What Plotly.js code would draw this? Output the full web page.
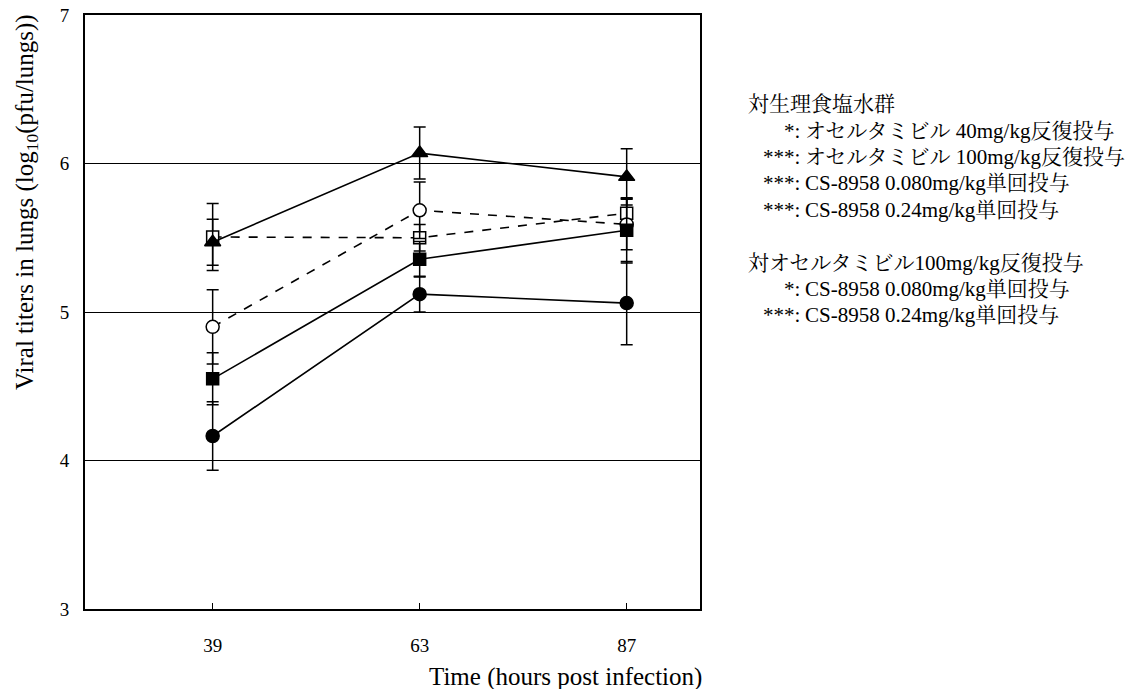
<!DOCTYPE html>
<html>
<head>
<meta charset="utf-8">
<script src="https://cdn.plot.ly/plotly-3.0.1.min.js"></script>
<style>html,body{margin:0;padding:0;background:#fff;}#chart{width:1129px;height:689px;}</style>
</head>
<body>
<div id="chart"></div>
<script>
// ---- data ----
const times = [39, 63, 87];
const tickLabels = ['39', '63', '87'];
const yTicks = [3, 4, 5, 6, 7];

const triangleVals = [5.47, 6.07, 5.91];
const triangleErr  = [0.155, 0.175, 0.19];

const openSquareVals = [5.505, 5.50, 5.665];
const openSquareErr  = [0.225, 0.09, 0.10];

const openCircleVals = [4.90, 5.685, 5.59];
const openCircleErr  = [0.25, 0.19, 0.17];

const filledSquareVals = [4.55, 5.355, 5.55];
const filledSquareErr  = [0.175, 0.12, 0.22];

const filledCircleVals = [4.165, 5.12, 5.06];
const filledCircleErr  = [0.23, 0.12, 0.28];

const noteHeader1 = '対生理食塩水群';
const notePrefix1 = ['*:', '***:', '***:', '***:'];
const noteText1 = ['オセルタミビル 40mg/kg反復投与', 'オセルタミビル 100mg/kg反復投与', 'CS-8958 0.080mg/kg単回投与', 'CS-8958 0.24mg/kg単回投与'];
const noteHeader2 = '対オセルタミビル100mg/kg反復投与';
const notePrefix2 = ['*:', '***:'];
const noteText2 = ['CS-8958 0.080mg/kg単回投与', 'CS-8958 0.24mg/kg単回投与'];

// ---- layout geometry ----
const W = 1129, H = 689;
const M = {l: 85, r: 429, t: 15, b: 80};
const PW = W - M.l - M.r, PH = H - M.t - M.b;
const px = x => (x - M.l) / PW;
const py = y => (H - M.b - y) / PH;

const FONT = 'Liberation Serif, Noto Serif CJK JP, Noto Sans CJK JP, serif';

function series(name, vals, errs, symbol, fill, dash, size) {
  return {
    type: 'scatter', mode: 'lines+markers', name: name,
    x: times, y: vals,
    error_y: {type: 'data', array: errs, visible: true, color: '#000', thickness: 1.5, width: 6},
    line: {color: '#000', width: 1.6, dash: dash},
    marker: {symbol: symbol, size: size, color: fill, line: {color: '#000', width: 1.5}},
    cliponaxis: false
  };
}

const data = [
  series('open square', openSquareVals, openSquareErr, 'square', '#fff', 'dash', 12),
  series('open circle', openCircleVals, openCircleErr, 'circle', '#fff', 'dash', 13),
  series('triangle', triangleVals, triangleErr, 'triangle-up', '#000', 'solid', 14),
  series('filled square', filledSquareVals, filledSquareErr, 'square', '#000', 'solid', 12),
  series('filled circle', filledCircleVals, filledCircleErr, 'circle', '#000', 'solid', 13)
];

const annotations = [];
annotations.push({
  xref: 'paper', yref: 'paper', x: px(27), y: py(202), textangle: -90,
  text: 'Viral titers in lungs (log<sub>10</sub>(pfu/lungs))', showarrow: false,
  font: {family: FONT, size: 25, color: '#000'}, xanchor: 'center', yanchor: 'middle'
});
annotations.push({
  xref: 'paper', yref: 'paper', x: px(565), y: py(677),
  text: 'Time (hours post infection)', showarrow: false,
  font: {family: FONT, size: 25, color: '#000'}, xanchor: 'center', yanchor: 'middle'
});

const noteFont = {family: FONT, size: 21, color: '#000'};
function noteLine(yPix, prefix, text) {
  if (prefix === null) {
    annotations.push({xref: 'paper', yref: 'paper', x: px(746), y: py(yPix), text: text, showarrow: false,
      font: noteFont, xanchor: 'left', yanchor: 'middle'});
  } else {
    annotations.push({xref: 'paper', yref: 'paper', x: px(802), y: py(yPix), text: prefix, showarrow: false,
      font: noteFont, xanchor: 'right', yanchor: 'middle'});
    annotations.push({xref: 'paper', yref: 'paper', x: px(803), y: py(yPix), text: text, showarrow: false,
      font: noteFont, xanchor: 'left', yanchor: 'middle'});
  }
}
let yy = 104;
noteLine(yy, null, noteHeader1);
notePrefix1.forEach((p, i) => { yy += 26.5; noteLine(yy, p, noteText1[i]); });
yy += 53;
noteLine(yy, null, noteHeader2);
notePrefix2.forEach((p, i) => { yy += 26; noteLine(yy, p, noteText2[i]); });

const layout = {
  width: W, height: H,
  margin: M,
  paper_bgcolor: '#fff', plot_bgcolor: '#fff',
  showlegend: false,
  font: {family: FONT, color: '#000', size: 19},
  xaxis: {
    range: [24.2, 95.5], tickmode: 'array', tickvals: times, ticktext: tickLabels,
    ticks: 'inside', ticklen: 6, tickwidth: 1.5, tickcolor: '#000',
    showline: true, linecolor: '#000', linewidth: 2, mirror: true,
    showgrid: false, zeroline: false, ticklabelstandoff: 18,
    tickfont: {family: FONT, size: 19, color: '#000'}
  },
  yaxis: {
    range: [3, 7], tickmode: 'array', tickvals: yTicks, ticktext: yTicks.map(String),
    ticks: '', showline: true, linecolor: '#000', linewidth: 2, mirror: true,
    showgrid: true, gridcolor: '#000', gridwidth: 1, zeroline: false,
    ticklabelstandoff: 10,
    tickfont: {family: FONT, size: 19, color: '#000'}
  },
  annotations: annotations
};

Plotly.newPlot('chart', data, layout, {displayModeBar: false, staticPlot: true});
</script>
</body>
</html>
